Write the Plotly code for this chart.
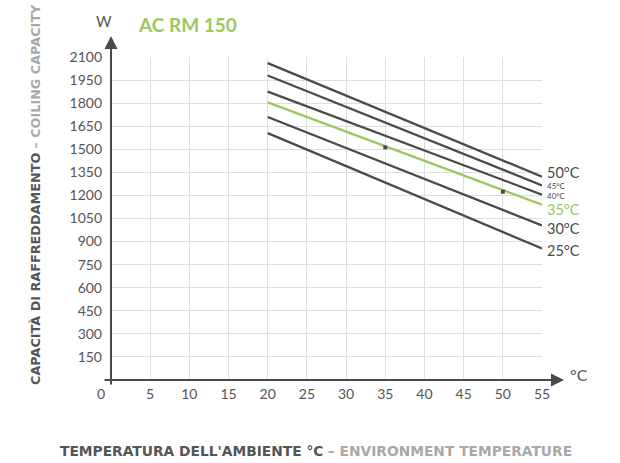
import plotly.graph_objects as go

# ---- data ----
x_points = [20, 55]
series_names = ["25°C", "30°C", "35°C", "40°C", "45°C", "50°C"]
series_values = {
    "25°C": [1605, 855],
    "30°C": [1710, 1005],
    "35°C": [1805, 1140],
    "40°C": [1875, 1205],
    "45°C": [1980, 1265],
    "50°C": [2060, 1322],
}
marker_x = [35, 50]
marker_y = [1512, 1224]
x_ticks = [5, 10, 15, 20, 25, 30, 35, 40, 45, 50, 55]
y_ticks = [150, 300, 450, 600, 750, 900, 1050, 1200, 1350, 1500, 1650, 1800, 1950, 2100]

DARK = "#4a4a4a"
GREEN = "#9bc85c"
GRAY_TXT = "#555555"
LIGHT_TXT = "#a8a8a8"
FONT = "Lato"

W, H = 620, 463
L, R, T, B = 111, 78, 57, 83
pw, ph = W - L - R, H - T - B


def px_x(p):
    return (p - L) / pw


def px_y(p):
    return (H - B - p) / ph


fig = go.Figure()
for name in series_names:
    col = GREEN if name == "35°C" else DARK
    fig.add_trace(go.Scatter(x=x_points, y=series_values[name], mode="lines",
                             line=dict(color=col, width=2.3), name=name,
                             showlegend=False, hoverinfo="skip"))
fig.add_trace(go.Scatter(x=marker_x, y=marker_y, mode="markers",
                         marker=dict(color=DARK, size=4, symbol="square"),
                         showlegend=False, hoverinfo="skip"))

annotations = []
# series labels at right
label_style = {
    "50°C": (14.5, DARK, 4),
    "45°C": (8, DARK, -0.5),
    "40°C": (8, DARK, -1.5),
    "35°C": (14.5, GREEN, -5),
    "30°C": (14.5, DARK, -3.3),
    "25°C": (14.5, DARK, -2),
}
for name in series_names:
    size, col, shift = label_style[name]
    annotations.append(dict(x=55, y=series_values[name][1], xref="x", yref="y",
                            text=name, showarrow=False, xanchor="left", yanchor="middle",
                            xshift=4, yshift=shift, borderpad=0,
                            font=dict(family=FONT, size=size, color=col)))

# axis arrows
annotations.append(dict(x=px_x(564), y=0, xref="paper", yref="paper", text="",
                        showarrow=True, ax=-(564 - 103), ay=0, arrowhead=2,
                        arrowsize=1.3, arrowwidth=2, arrowcolor=DARK))
annotations.append(dict(x=0, y=px_y(36), xref="paper", yref="paper", text="",
                        showarrow=True, ax=0, ay=(386 - 36), arrowhead=2,
                        arrowsize=1.3, arrowwidth=2, arrowcolor=DARK))
# origin label
annotations.append(dict(x=px_x(101), y=px_y(393), xref="paper", yref="paper", text="0",
                        showarrow=False, xanchor="center", yanchor="middle",
                        font=dict(family=FONT, size=14, color=GRAY_TXT)))
# unit labels
annotations.append(dict(x=px_x(104), y=px_y(21), xref="paper", yref="paper", text="W",
                        showarrow=False, xanchor="center", yanchor="middle",
                        font=dict(family=FONT, size=15, color=GRAY_TXT)))
annotations.append(dict(x=px_x(579), y=px_y(374), xref="paper", yref="paper", text="°C",
                        showarrow=False, xanchor="center", yanchor="middle",
                        font=dict(family=FONT, size=16, color=GRAY_TXT)))
# title
annotations.append(dict(x=px_x(136), y=px_y(25), xref="paper", yref="paper",
                        text="<b>AC RM 150</b>", showarrow=False, xanchor="left",
                        yanchor="middle",
                        font=dict(family=FONT, size=19, color=GREEN)))
# axis titles
annotations.append(dict(x=px_x(35), y=px_y(195), xref="paper", yref="paper",
                        text="<b>CAPACITÀ DI RAFFREDDAMENTO</b> <span style='color:%s'><b>– COILING CAPACITY</b></span>" % LIGHT_TXT,
                        showarrow=False, textangle=-90, xanchor="center", yanchor="middle",
                        font=dict(family="DejaVu Sans", size=12.8, color=GRAY_TXT)))
annotations.append(dict(x=px_x(316), y=px_y(451), xref="paper", yref="paper",
                        text="<b>TEMPERATURA DELL'AMBIENTE °C</b> <span style='color:%s'><b>– ENVIRONMENT TEMPERATURE</b></span>" % LIGHT_TXT,
                        showarrow=False, xanchor="center", yanchor="middle",
                        font=dict(family="DejaVu Sans", size=13.8, color=GRAY_TXT)))

fig.update_layout(
    width=W, height=H, margin=dict(l=L, r=R, t=T, b=B),
    plot_bgcolor="white", paper_bgcolor="white",
    annotations=annotations,
    xaxis=dict(range=[0, 55], tickvals=x_ticks, showgrid=True, gridcolor="#dedede",
               gridwidth=1, zeroline=False, showline=False, ticks="",
               ticklabelstandoff=4,
               tickfont=dict(family=FONT, size=14, color=GRAY_TXT), fixedrange=True),
    yaxis=dict(range=[0, 2100], tickvals=y_ticks, showgrid=True, gridcolor="#dedede",
               gridwidth=1, zeroline=False, showline=False, ticks="",
               ticklabelstandoff=8,
               tickfont=dict(family=FONT, size=14, color=GRAY_TXT), fixedrange=True),
)

fig.write_html("out.html", config={"displayModeBar": False},
               post_script="document.body.style.margin='0px';document.body.style.padding='0px';")
